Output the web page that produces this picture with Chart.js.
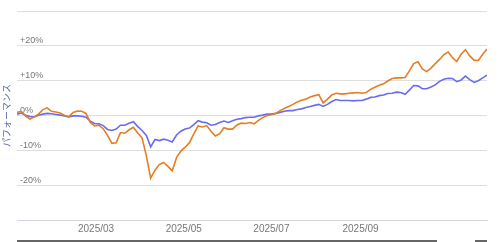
<!DOCTYPE html>
<html>
<head>
<meta charset="utf-8">
<script src="https://cdn.jsdelivr.net/npm/chart.js@4/dist/chart.umd.min.js"></script>
<style>
  body { margin: 0; background: #fff; }
  #wrap { position: relative; width: 500px; height: 242px; }
  .bar { position: absolute; top: 240px; height: 2px; background: #666; }
</style>
</head>
<body>
<div id="wrap">
  <canvas id="perf" width="500" height="242"></canvas>
  <div class="bar" style="left:17px;width:420px"></div>
  <div class="bar" style="left:475px;width:12px"></div>
</div>
<script>
// sampling: every 3 days, starting 2025-01-05 (day of year 4)
var startDay = 4;
var stepDays = 3;

// orange series (%)
var fundA = [0.9,1.2,-0.2,-1.0,-0.4,0.4,1.7,2.2,1.2,1.0,
  0.7,0.1,-0.4,0.9,1.3,1.2,0.6,-2.0,-3.0,-2.8,
  -3.8,-5.7,-8.0,-7.8,-4.9,-5.1,-4.1,-3.4,-5.0,-6.4,
  -11.6,-18.0,-15.7,-14.1,-13.5,-14.6,-15.9,-12.1,-10.2,-9.1,
  -7.8,-5.3,-3.0,-3.3,-2.9,-4.5,-5.9,-5.2,-3.5,-3.9,
  -3.9,-2.7,-2.2,-2.3,-2.0,-2.4,-1.4,-0.6,0.0,0.2,
  0.6,1.4,2.0,2.6,3.2,3.9,4.4,4.7,5.3,5.7,
  6.0,3.6,4.7,5.9,6.4,6.2,6.2,6.4,6.5,6.6,
  6.4,6.6,7.5,8.1,8.7,9.1,9.9,10.6,10.8,10.8,
  10.9,12.8,14.9,15.4,13.4,12.6,13.6,14.9,16.1,17.5,
  18.2,16.6,15.5,17.6,18.9,17.1,15.9,15.8,17.6,19.1];

// blue series (%)
var fundB = [0.4,0.7,0.1,-0.3,-0.4,0.1,0.4,0.6,0.5,0.3,
  0.1,-0.1,-0.4,-0.1,-0.1,-0.2,-0.5,-1.6,-2.3,-2.4,
  -2.9,-4.0,-4.3,-3.9,-2.8,-2.8,-2.2,-1.8,-3.2,-4.3,
  -5.7,-9.0,-6.9,-7.2,-6.8,-7.1,-7.6,-5.6,-4.5,-3.9,
  -3.6,-2.6,-1.5,-1.9,-2.1,-2.8,-2.6,-2.0,-1.6,-2.0,
  -1.5,-1.1,-0.9,-0.6,-0.5,-0.5,-0.1,0.1,0.4,0.4,
  0.6,0.9,1.2,1.4,1.4,1.7,1.9,2.3,2.6,2.9,
  3.2,2.6,3.2,4.0,4.6,4.3,4.3,4.3,4.2,4.3,
  4.3,4.7,5.2,5.3,5.7,5.9,6.3,6.4,6.7,6.6,
  6.1,7.3,8.6,8.5,7.7,7.7,8.2,8.8,9.8,10.4,
  10.7,10.6,9.7,10.2,11.3,10.3,9.5,10.0,10.8,11.6];

// x ticks: first day of month (day of year) and their labels
var monthTicks = [59, 120, 181, 243, 304];
var monthLabels = ['2025/03', '2025/05', '2025/07', '2025/09', ''];

// y ticks
var yTicks = [-30, -20, -10, 0, 10, 20, 30];
var yLabels = ['', '-20%', '-10%', '0%', '+10%', '+20%', ''];

function toPoints(arr) {
  return arr.map(function (v, i) { return { x: startDay + i * stepDays, y: v }; });
}

var font = "'Liberation Sans', Arial, 'Noto Sans CJK JP', sans-serif";

var perfCfg = {
  type: 'line',
  data: {
    datasets: [{
      label: 'A',
      data: toPoints(fundA),
      borderColor: '#e67e22',
      borderWidth: 1.6,
      pointRadius: 0,
      tension: 0
    }, {
      label: 'B',
      data: toPoints(fundB),
      borderColor: '#6a6cf0',
      borderWidth: 1.6,
      pointRadius: 0,
      tension: 0
    }]
  },
  options: {
    responsive: false,
    animation: false,
    layout: { padding: { top: 11, right: 13, left: 0, bottom: 0 } },
    plugins: { legend: { display: false }, tooltip: { enabled: false } },
    scales: {
      x: {
        type: 'linear',
        min: startDay,
        max: startDay + stepDays * (fundA.length - 1),
        afterBuildTicks: function (scale) {
          scale.ticks = monthTicks.map(function (v) { return { value: v }; });
        },
        afterFit: function (scale) { scale.height = 22; },
        grid: { drawOnChartArea: false, drawTicks: false },
        border: { color: '#d4d6e2' },
        ticks: {
          padding: 3,
          color: '#777',
          font: { family: font, size: 10 },
          callback: function (v) {
            var k = monthTicks.indexOf(v);
            return k < 0 ? '' : monthLabels[k];
          }
        }
      },
      y: {
        min: -30,
        max: 30,
        afterBuildTicks: function (scale) {
          scale.ticks = yTicks.map(function (v) { return { value: v }; });
        },
        afterFit: function (scale) { scale.width = 17; },
        grid: { color: '#dedede', drawTicks: false },
        border: { display: false },
        ticks: {
          mirror: true,
          padding: 3,
          labelOffset: -5,
          color: '#777',
          font: { family: font, size: 9 },
          callback: function (v) {
            var k = yTicks.indexOf(v);
            return k < 0 ? '' : yLabels[k];
          }
        },
        title: {
          display: true,
          text: 'パフォーマンス',
          color: '#55679f',
          padding: { top: 2, bottom: 0 },
          font: { family: font, size: 9 }
        }
      }
    }
  }
};

var perfChart = new Chart(document.getElementById('perf').getContext('2d'), perfCfg);
</script>
</body>
</html>
